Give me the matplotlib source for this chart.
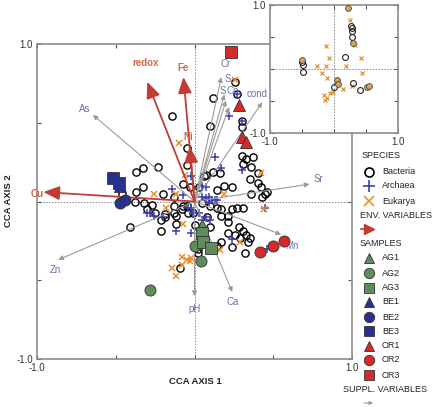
import matplotlib
matplotlib.use("Agg")
import matplotlib.pyplot as plt
import numpy as np

plt.rcParams['font.family'] = ['Liberation Sans', 'DejaVu Sans']

# ---------------- data (CCA scores) ----------------
bact_x = [0.12, -0.14, 0.10, 0.26, 0.27, 0.30, 0.30, -0.05, -0.23, -0.37, -0.33, -0.05, 0.06, 0.12, 0.16,
          -0.07, -0.33, -0.37, -0.20, 0.03, -0.13, -0.38, -0.32, -0.46, 0.30, 0.33, 0.37, 0.31, 0.36, 0.40,
          0.07, 0.40, 0.35, 0.42, 0.45, 0.36, 0.14, 0.24, 0.19, -0.03, 0.43, 0.46,
          -0.05, -0.01, 0.14, 0.17, 0.05, 0.08, 0.21, 0.10, 0.17, 0.21, 0.24, 0.27, 0.31, 0.28, 0.00, 0.21,
          0.26, 0.29, 0.33, 0.31, 0.34, 0.35, 0.24, 0.17, 0.14, 0.32, 0.11, 0.02, -0.13, -0.08, -0.13, -0.12,
          -0.04, -0.09, -0.41, -0.21, -0.30, -0.25, -0.19, -0.21, -0.12, -0.07, 0.10, -0.27, -0.19, 0.02]
bact_y = [0.66, 0.54, 0.48, 0.76, 0.68, 0.51, 0.47, 0.34, 0.22, 0.19, 0.21, 0.23, 0.16, 0.19, 0.18,
          0.11, 0.09, 0.06, 0.05, 0.09, 0.03, 0.00, -0.01, 0.05, 0.29, 0.27, 0.28, 0.24, 0.22, 0.18,
          0.17, 0.12, 0.14, 0.09, 0.05, 0.05, 0.07, 0.09, 0.10, 0.09, 0.03, 0.06,
          -0.03, -0.07, -0.04, -0.05, -0.01, -0.10, -0.13, -0.03, -0.09, -0.09, -0.05, -0.04, -0.04, -0.16, -0.15, -0.20,
          -0.21, -0.23, -0.21, -0.19, -0.26, -0.23, -0.29, -0.26, -0.28, -0.33, -0.31, -0.33, -0.03, -0.05, -0.07, -0.14,
          -0.07, -0.42, -0.16, -0.19, -0.05, -0.07, -0.10, -0.12, -0.09, -0.03, -0.16, -0.02, -0.08, -0.30]

arch_x = [0.22, 0.13, 0.17, 0.30, -0.02, 0.07, 0.05, 0.09, 0.05, 0.13, 0.09, -0.14, -0.07, -0.02, -0.28,
          -0.20, -0.12, -0.02, -0.04, 0.05, 0.10, -0.30, -0.26, -0.01, 0.07, 0.07, 0.14, 0.11, 0.24, 0.45,
          0.27, 0.30, 0.46, 0.03]
arch_y = [0.54, 0.28, 0.21, 0.20, 0.16, 0.09, 0.03, 0.03, 0.10, 0.01, 0.00, 0.08, 0.04, -0.04, -0.07,
          -0.10, -0.19, -0.20, -0.04, -0.12, -0.12, -0.07, -0.09, -0.07, -0.10, 0.02, 0.01, 0.01, -0.24, -0.04,
          0.68, 0.51, -0.30, -0.07]

euk_x = [-0.10, -0.06, -0.26, -0.18, -0.07, 0.26, 0.19, -0.12, 0.42, 0.44, -0.08, -0.08, -0.14, -0.12,
         -0.03, -0.02, -0.05, 0.16, 0.29]
euk_y = [0.37, 0.17, 0.05, -0.04, -0.14, 0.77, 0.05, 0.05, 0.18, -0.05, -0.35, -0.40, -0.42, -0.47,
         -0.38, -0.36, -0.37, -0.31, -0.26]

# environmental variables (red arrows)
env_names = ['Cu', 'redox', 'Fe', 'Ni']
env_x = [-0.96, -0.30, -0.07, -0.03]
env_y = [0.06, 0.76, 0.79, 0.35]
env_lab_x = [-1.00, -0.31, -0.07, -0.04]
env_lab_y = [0.05, 0.88, 0.85, 0.41]

# supplementary variables (grey arrows)
sup_names = ['As', 'Cr', 'S', 'S', 'Co', 'cond', 'Sr', 'Mn', 'Ca', 'pH', 'Zn']
sup_x = [-0.645, 0.17, 0.19, 0.20, 0.22, 0.43, 0.73, 0.55, 0.24, 0.00, -0.865]
sup_y = [0.55, 0.79, 0.68, 0.64, 0.60, 0.63, 0.11, -0.21, -0.575, -0.60, -0.37]
sup_lab_x = [-0.70, 0.20, 0.21, 0.18, 0.245, 0.40, 0.79, 0.62, 0.245, 0.00, -0.885]
sup_lab_y = [0.59, 0.87, 0.775, 0.70, 0.70, 0.68, 0.14, -0.28, -0.64, -0.68, -0.435]

# samples
samples = ['AG1', 'AG2', 'AG3', 'BE1', 'BE2', 'BE3', 'OR1', 'OR2', 'OR3']
samp_x = {'AG1': [0.05], 'AG2': [0.00, 0.04, -0.28], 'AG3': [0.05, 0.055, 0.105],
          'BE1': [-0.47], 'BE2': [-0.47, -0.44], 'BE3': [-0.52, -0.48],
          'OR1': [0.28, 0.30, 0.33], 'OR2': [0.415, 0.50, 0.57], 'OR3': [0.23]}
samp_y = {'AG1': [-0.15], 'AG2': [-0.28, -0.38, -0.56], 'AG3': [-0.20, -0.26, -0.295],
          'BE1': [0.10], 'BE2': [-0.01, 0.01], 'BE3': [0.15, 0.12],
          'OR1': [0.61, 0.41, 0.38], 'OR2': [-0.32, -0.28, -0.25], 'OR3': [0.95]}

# inset
in_bx = [0.27, 0.28, 0.28, 0.28, 0.17, -0.50, -0.48, -0.48, 0.00, 0.30, 0.41]
in_by = [0.67, 0.64, 0.59, 0.50, 0.19, 0.11, 0.06, -0.05, -0.28, -0.22, -0.33]
in_ox = [0.22, 0.30, 0.05, 0.06, -0.50, 0.52, 0.55]
in_oy = [0.95, 0.41, -0.17, -0.23, 0.14, -0.28, -0.27]
in_ex = [0.25, 0.33, 0.42, 0.19, 0.44, -0.12, -0.08, -0.27, -0.12, -0.19, -0.11, 0.14, 0.28,
         -0.16, -0.14, -0.11, -0.06, -0.02]
in_ey = [0.77, 0.38, 0.17, 0.05, -0.06, 0.36, 0.17, 0.05, 0.05, -0.06, -0.14, -0.31, -0.27,
         -0.41, -0.48, -0.45, -0.38, -0.36]

# ---------------- style ----------------
GREEN = '#5f8c5c'
BLUE = '#27318f'
RED = '#d42a2a'
ARCH = '#3b3fae'
EUK = '#e8902a'
ENV_ARROW = '#c23b36'
ENV_TEXT = '#d0684c'
SUP_ARROW = '#9b9b9b'
SUP_TEXT = '#6c70a6'
FRAME = '#8c8c8c'

samp_style = {'AG1': ('^', GREEN), 'AG2': ('o', GREEN), 'AG3': ('s', GREEN),
              'BE1': ('^', BLUE), 'BE2': ('o', BLUE), 'BE3': ('s', BLUE),
              'OR1': ('^', RED), 'OR2': ('o', RED), 'OR3': ('s', RED)}

fig = plt.figure(figsize=(4.42, 4.07), dpi=100)
ax = fig.add_axes([37/442, 48/407, 315/442, 315/407])
ax.set_xlim(-1, 1)
ax.set_ylim(-1, 1)
for s in ax.spines.values():
    s.set_color(FRAME)
    s.set_linewidth(1.2)
ax.set_xticks([-1, -0.5, 0, 0.5, 1])
ax.set_xticklabels(['-1.0', '', '', '', '1.0'])
ax.set_yticks([-1, -0.5, 0, 0.5, 1])
ax.set_yticklabels(['-1.0', '', '', '', '1.0'])
ax.tick_params(direction='in', length=3, width=0.8, color='#555555', labelsize=7, pad=3,
               labelcolor='#333333', top=True, right=True)
ax.axhline(0, color='#888888', lw=0.7, ls=(0, (1.5, 1.5)), zorder=1)
ax.axvline(0, color='#888888', lw=0.7, ls=(0, (1.5, 1.5)), zorder=1)

# species
ax.plot(bact_x, bact_y, ls='none', marker='o', ms=5.2, mfc='none', mec='black', mew=1.0, zorder=3)
ax.plot(arch_x, arch_y, ls='none', marker='+', ms=5.5, color=ARCH, mew=1.1, zorder=4)
ax.plot(euk_x, euk_y, ls='none', marker='x', ms=4.2, color=EUK, mew=1.1, zorder=4)

# supplementary arrows
for n, x, y, lx, ly in zip(sup_names, sup_x, sup_y, sup_lab_x, sup_lab_y):
    ax.annotate('', xy=(x, y), xytext=(0, 0),
                arrowprops=dict(arrowstyle='-|>', color=SUP_ARROW, lw=0.8, mutation_scale=7,
                                shrinkA=0, shrinkB=0), zorder=5)
    ax.text(lx, ly, n, color=SUP_TEXT, fontsize=7, ha='center', va='center', zorder=6)

# env arrows
for n, x, y, lx, ly in zip(env_names, env_x, env_y, env_lab_x, env_lab_y):
    ax.annotate('', xy=(x, y), xytext=(0, 0),
                arrowprops=dict(arrowstyle='-|>,head_length=0.7,head_width=0.3', color=ENV_ARROW,
                                lw=1.3, mutation_scale=14, shrinkA=0, shrinkB=0), zorder=5)
    ax.text(lx, ly, n, color=ENV_TEXT, fontsize=7, fontweight='bold', ha='center', va='center', zorder=6)

# samples
for s in samples:
    m, c = samp_style[s]
    ax.plot(samp_x[s], samp_y[s], ls='none', marker=m, ms=8, mfc=c, mec='#333333', mew=0.6, zorder=7)

# inset
ins = fig.add_axes([270/442, (407-133)/407, 128/442, 128/407])
ins.set_xlim(-1, 1)
ins.set_ylim(-1, 1)
for s in ins.spines.values():
    s.set_color(FRAME)
    s.set_linewidth(1.2)
ins.set_xticks([-1, -0.5, 0, 0.5, 1])
ins.set_xticklabels(['-1.0', '', '', '', '1.0'])
ins.set_yticks([-1, -0.5, 0, 0.5, 1])
ins.set_yticklabels(['-1.0', '', '', '', '1.0'])
ins.tick_params(direction='in', length=3, width=0.8, color='#555555', labelsize=7, pad=3,
                labelcolor='#333333', top=True, right=True)
ins.axhline(0, color='#888888', lw=0.7, ls=(0, (1.5, 1.5)), zorder=1)
ins.axvline(0, color='#888888', lw=0.7, ls=(0, (1.5, 1.5)), zorder=1)
ins.plot(in_ex, in_ey, ls='none', marker='x', ms=2.8, color=EUK, mew=0.9, zorder=3)
ins.plot(in_bx, in_by, ls='none', marker='o', ms=4.2, mfc='none', mec='#222222', mew=0.8, zorder=4)
ins.plot(in_ox, in_oy, ls='none', marker='o', ms=4.2, mfc='#d9a35a', mec='#444444', mew=0.6, zorder=4)

# overlay for axis titles and legend
ov = fig.add_axes([0, 0, 1, 1], zorder=10)
ov.set_xlim(0, 442)
ov.set_ylim(407, 0)
ov.axis('off')
ov.text(195, 381, 'CCA AXIS 1', fontsize=6.8, fontweight='bold', ha='center', va='center', color='#222222')
ov.text(9, 201, 'CCA AXIS 2', fontsize=6.8, fontweight='bold', ha='center', va='center',
        rotation=90, color='#222222')

HX, MX, TX = 360, 369, 382
fs = 6.5
ov.text(HX + 2, 156, 'SPECIES', fontsize=fs, va='center', color='#222222')
ov.plot([MX], [172], marker='o', ms=6.5, mfc='none', mec='black', mew=1.2)
ov.text(TX, 172, 'Bacteria', fontsize=fs, va='center', color='#222222')
ov.plot([MX], [186], marker='+', ms=8, color=ARCH, mew=1.2)
ov.text(TX, 186, 'Archaea', fontsize=fs, va='center', color='#222222')
ov.plot([MX], [201], marker='x', ms=7, color=EUK, mew=1.2)
ov.text(TX, 201, 'Eukarya', fontsize=fs, va='center', color='#222222')
ov.text(HX, 216, 'ENV. VARIABLES', fontsize=fs, va='center', color='#222222')
ov.plot([MX], [229], marker='>', ms=7, color=ENV_ARROW)
ov.plot([MX - 8, MX], [229, 229], color=ENV_ARROW, lw=1.2)
ov.text(HX, 244, 'SAMPLES', fontsize=fs, va='center', color='#222222')
ly = [258, 273, 288, 302, 317, 331, 346, 360, 375]
for s, yy in zip(samples, ly):
    m, c = samp_style[s]
    ov.plot([MX], [yy], marker=m, ms=7.5 if m != '^' else 6.5, mfc=c, mec='#333333', mew=0.6)
    ov.text(TX, yy, s, fontsize=fs, va='center', color='#222222')
ov.text(343, 390, 'SUPPL. VARIABLES', fontsize=fs, va='center', color='#222222')
ov.annotate('', xy=(MX + 4, 403), xytext=(MX - 5, 403),
            arrowprops=dict(arrowstyle='-|>', color=SUP_ARROW, lw=0.8, mutation_scale=5,
                            shrinkA=0, shrinkB=0))

fig.savefig('out.png', dpi=100)
